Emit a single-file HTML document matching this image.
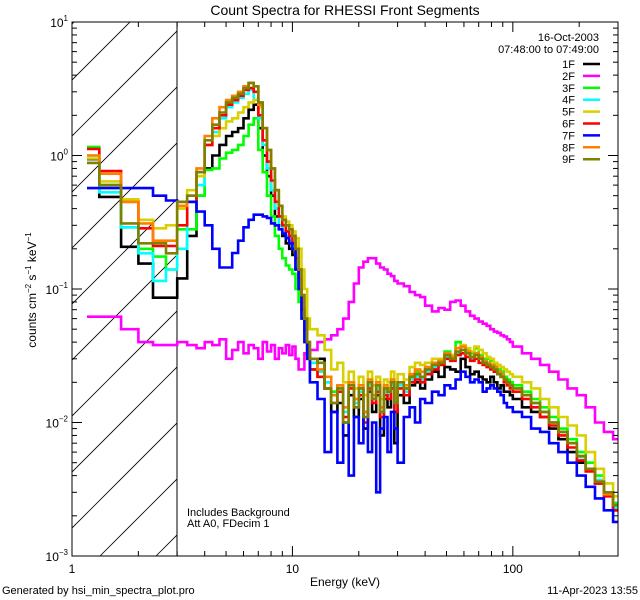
<!DOCTYPE html>
<html><head><meta charset="utf-8"><style>
html,body{margin:0;padding:0;background:#fff;}
svg{display:block;font-family:"Liberation Sans",sans-serif;}
</style></head><body>
<svg id="chart" width="640" height="600" viewBox="0 0 640 600" xmlns="http://www.w3.org/2000/svg">
<rect x="0" y="0" width="640" height="600" fill="#fff"/>
<text x="345" y="15" font-size="14" text-anchor="middle">Count Spectra for RHESSI Front Segments</text>
<defs><clipPath id="hatchClip"><rect x="72" y="22" width="105" height="534"/></clipPath>
<clipPath id="plotClip"><rect x="72" y="22" width="546" height="534"/></clipPath></defs>
<g id="hatch" clip-path="url(#hatchClip)"></g>
<line x1="177" y1="22" x2="177" y2="556" stroke="#000" stroke-width="1"/>
<g id="series" clip-path="url(#plotClip)"></g>
<rect x="72" y="22" width="546" height="534" fill="none" stroke="#000" stroke-width="1"/>
<g id="axes"></g>
<text x="345" y="586" font-size="12" text-anchor="middle">Energy (keV)</text>
<text transform="translate(36,290) rotate(-90)" font-size="12" text-anchor="middle">counts cm<tspan font-size="8" dy="-5">−2</tspan><tspan dy="5"> s</tspan><tspan font-size="8" dy="-5">−1</tspan><tspan dy="5"> keV</tspan><tspan font-size="8" dy="-5">−1</tspan></text>
<text x="599" y="41" font-size="11" text-anchor="end">16-Oct-2003</text>
<text x="599" y="53" font-size="11" text-anchor="end">07:48:00 to 07:49:00</text>
<g id="legend"></g>
<text x="187" y="516" font-size="11">Includes Background</text>
<text x="187" y="527" font-size="11">Att A0, FDecim 1</text>
<text x="2" y="594" font-size="11">Generated by hsi_min_spectra_plot.pro</text>
<text x="638" y="594" font-size="11" text-anchor="end">11-Apr-2023 13:55</text>
</svg>
<script>
const edges=[1.17,1.33,1.67,2.0,2.33,2.67,3.0,
3.33,3.67,4,4.33,4.67,5,5.33,5.67,6,6.33,6.67,7,7.33,7.67,8,8.33,8.67,9,9.33,9.67,10,10.33,10.67,11,11.33,11.67,12,
13,14,15,16,17,18,19,20,21,22,23,24,25,26,27,28,29,30,32,34,36,38,40,
43,46,49,52,55,58,61,64,67,70,73,76,79,82,85,88,91,94,97,100,
110,121,133,146,161,177,195,214,236,259,285,300];
const seriesNames=["1F","2F","3F","4F","5F","6F","7F","8F","9F"];
const seriesColors=["#000000","#ff00ff","#00ff00","#00ffff","#d8d000","#ff0000","#0000ff","#ff8000","#808000"];
const s1F=[0.94,0.49,0.207,0.155,0.086,0.086,
0.12,0.25,0.5,0.8,1.0,1.2,1.4,1.5,1.6,1.9,2.2,2.4,1.6,1.0,0.7,0.5,0.35,0.3,0.25,0.22,0.2,0.18,0.14,0.1,0.07,0.05,0.035,
0.025,0.03,0.018,
0.012,0.014,0.008,0.016,0.011,0.015,0.009,0.017,0.012,0.016,0.008,0.015,0.013,0.018,0.007,0.016,0.014,0.019,0.02,0.018,
0.021,0.024,0.022,0.026,0.025,0.024,0.03,0.026,0.023,0.024,0.022,0.021,0.02,0.022,0.02,0.018,0.019,0.017,0.017,0.016,
0.015,0.013,0.012,0.011,0.009,0.0075,0.006,0.005,0.0045,0.0035,0.003,0.0022];
const s2F=[0.062,0.062,0.05,0.04,0.038,0.038,
0.04,0.038,0.036,0.04,0.038,0.042,0.03,0.035,0.04,0.033,0.038,0.036,0.03,0.04,0.034,0.038,0.03,0.036,0.033,0.038,0.032,0.037,0.03,0.025,0.025,0.033,0.035,
0.035,0.04,0.042,
0.045,0.05,0.06,0.08,0.11,0.145,0.16,0.17,0.17,0.155,0.145,0.14,0.13,0.125,0.115,0.11,0.105,0.095,0.09,0.087,
0.075,0.068,0.072,0.07,0.08,0.082,0.075,0.068,0.063,0.06,0.057,0.055,0.053,0.05,0.048,0.047,0.045,0.044,0.042,0.04,
0.037,0.033,0.03,0.027,0.024,0.021,0.018,0.016,0.013,0.01,0.0085,0.0075];
const s3F=[1.16,0.6,0.29,0.2,0.175,0.14,
0.28,0.28,0.5,0.78,0.8,0.95,1.05,1.1,1.2,1.4,1.7,1.9,1.1,0.75,0.5,0.35,0.25,0.2,0.17,0.15,0.14,0.13,0.1,0.08,0.06,0.04,0.03,
0.025,0.022,0.02,
0.017,0.019,0.013,0.02,0.015,0.018,0.012,0.02,0.016,0.019,0.012,0.018,0.017,0.02,0.014,0.02,0.018,0.022,0.024,0.022,
0.025,0.028,0.03,0.034,0.032,0.04,0.037,0.035,0.033,0.036,0.032,0.03,0.03,0.029,0.027,0.025,0.024,0.022,0.021,0.02,
0.019,0.017,0.015,0.013,0.011,0.009,0.0075,0.006,0.005,0.004,0.003,0.0025];
const s4F=[1.0,0.53,0.29,0.185,0.115,0.14,
0.2,0.45,0.6,1.2,1.5,1.9,2.3,2.5,2.7,2.9,3.1,2.6,1.9,1.2,0.8,0.55,0.4,0.3,0.27,0.25,0.23,0.2,0.15,0.1,0.07,0.05,0.035,
0.028,0.024,0.02,
0.016,0.018,0.012,0.019,0.014,0.017,0.011,0.019,0.015,0.018,0.012,0.017,0.016,0.019,0.013,0.019,0.017,0.021,0.022,0.021,
0.024,0.026,0.028,0.031,0.03,0.033,0.035,0.033,0.03,0.032,0.03,0.029,0.028,0.027,0.025,0.024,0.023,0.021,0.02,0.019,
0.018,0.016,0.014,0.012,0.01,0.0085,0.007,0.0055,0.0045,0.0037,0.0029,0.0023];
const s5F=[0.95,0.64,0.47,0.33,0.285,0.30,
0.4,0.55,0.7,1.2,1.4,1.6,1.8,1.9,2.1,2.3,2.5,2.6,2.3,1.6,1.1,0.8,0.55,0.42,0.35,0.32,0.3,0.27,0.24,0.2,0.14,0.1,0.06,
0.05,0.045,0.035,
0.025,0.028,0.02,0.024,0.018,0.022,0.016,0.024,0.019,0.022,0.015,0.021,0.02,0.024,0.017,0.023,0.021,0.026,0.028,0.027,
0.028,0.03,0.03,0.033,0.032,0.036,0.038,0.036,0.034,0.037,0.035,0.033,0.031,0.03,0.028,0.027,0.026,0.025,0.024,0.023,
0.022,0.02,0.018,0.015,0.013,0.011,0.0095,0.008,0.006,0.0045,0.0035,0.0028];
const s6F=[1.12,0.765,0.45,0.285,0.21,0.21,
0.3,0.45,0.75,1.2,1.6,2.0,2.4,2.6,2.8,3.1,3.2,3.0,2.0,1.3,0.9,0.65,0.45,0.35,0.3,0.27,0.25,0.22,0.17,0.12,0.07,0.05,0.035,
0.025,0.022,0.018,
0.014,0.017,0.011,0.018,0.013,0.016,0.01,0.018,0.014,0.017,0.011,0.016,0.015,0.018,0.012,0.018,0.016,0.02,0.021,0.02,
0.023,0.025,0.027,0.03,0.029,0.032,0.033,0.031,0.029,0.03,0.028,0.027,0.026,0.025,0.024,0.023,0.022,0.02,0.019,0.018,
0.017,0.015,0.013,0.011,0.0095,0.008,0.0065,0.0052,0.0043,0.0035,0.0028,0.0022];
const s7F=[0.57,0.57,0.57,0.57,0.5,0.46,
0.45,0.45,0.38,0.30,0.2,0.145,0.145,0.186,0.23,0.29,0.33,0.36,0.36,0.35,0.34,0.31,0.3,0.28,0.26,0.24,0.22,0.2,0.14,0.1,0.06,0.04,0.03,
0.02,0.015,0.006,
0.012,0.005,0.01,0.004,0.011,0.007,0.012,0.006,0.01,0.003,0.009,0.011,0.006,0.012,0.009,0.005,0.011,0.013,0.01,0.015,
0.014,0.017,0.016,0.019,0.018,0.021,0.024,0.022,0.02,0.021,0.02,0.017,0.018,0.019,0.018,0.017,0.016,0.014,0.013,0.013,
0.012,0.011,0.009,0.0085,0.007,0.006,0.005,0.004,0.0033,0.0027,0.0022,0.0018];
const s8F=[1.0,0.73,0.45,0.31,0.23,0.23,
0.42,0.5,0.8,1.4,1.9,2.3,2.6,2.8,3.0,3.3,3.5,3.3,2.4,1.6,1.1,0.8,0.55,0.42,0.33,0.3,0.28,0.25,0.2,0.14,0.09,0.06,0.04,
0.03,0.025,0.022,
0.016,0.019,0.013,0.02,0.015,0.019,0.012,0.021,0.016,0.02,0.013,0.019,0.018,0.021,0.015,0.02,0.019,0.023,0.025,0.024,
0.026,0.028,0.029,0.033,0.031,0.036,0.037,0.034,0.031,0.033,0.031,0.029,0.028,0.027,0.026,0.024,0.023,0.021,0.02,0.019,
0.018,0.016,0.014,0.012,0.01,0.0085,0.007,0.0056,0.0045,0.0036,0.0029,0.0024];
const s9F=[0.88,0.6,0.31,0.22,0.22,0.185,
0.45,0.5,0.75,1.3,1.7,2.1,2.5,2.7,2.9,3.2,3.5,3.3,2.5,1.6,1.1,0.8,0.55,0.42,0.33,0.3,0.28,0.25,0.2,0.14,0.09,0.06,0.04,
0.03,0.028,0.018,
0.014,0.018,0.01,0.019,0.013,0.018,0.011,0.02,0.015,0.019,0.012,0.018,0.017,0.02,0.014,0.02,0.018,0.022,0.023,0.022,
0.025,0.027,0.028,0.032,0.03,0.034,0.035,0.033,0.031,0.032,0.03,0.028,0.027,0.026,0.025,0.023,0.022,0.021,0.02,0.019,
0.018,0.016,0.014,0.012,0.01,0.0085,0.007,0.0056,0.0045,0.0036,0.003,0.0024];
const seriesValues=[s1F,s2F,s3F,s4F,s5F,s6F,s7F,s8F,s9F];
const xTickMajor=[1,10,100];
const xTickLabels=["1","10","100"];
const yTickExps=[1,0,-1,-2,-3];

const NS="http://www.w3.org/2000/svg";
const X0=72,X1=618,Y0=22,Y1=556,XMIN=1,XMAX=300,YMIN=1e-3,YMAX=10;
function xs(e){return X0+(Math.log10(e)-Math.log10(XMIN))/(Math.log10(XMAX)-Math.log10(XMIN))*(X1-X0);}
function ys(v){return Y0+(Math.log10(YMAX)-Math.log10(v))/(Math.log10(YMAX)-Math.log10(YMIN))*(Y1-Y0);}
function mk(tag,attrs,parent){const el=document.createElementNS(NS,tag);for(const k in attrs)el.setAttribute(k,attrs[k]);parent.appendChild(el);return el;}

// hatch
const hatch=document.getElementById('hatch');
for(let k=-12;k<=3;k++){
  const c=100+56*k;
  const ln=mk('line',{x1:c,y1:556,x2:c+534,y2:22,stroke:'#000','stroke-width':0.8},hatch);
  
  
}

// series
const sg=document.getElementById('series');
seriesValues.forEach((vals,si)=>{
  let d='';
  const n=Math.min(vals.length,edges.length-1);
  for(let i=0;i<n;i++){
    const xa=xs(edges[i]).toFixed(1),xb=xs(edges[i+1]).toFixed(1),y=ys(vals[i]).toFixed(1);
    d+=(i===0?'M':'L')+xa+' '+y+'L'+xb+' '+y;
  }
  const p=mk('path',{d:d,fill:'none',stroke:seriesColors[si],'stroke-width':2.6,'stroke-linejoin':'miter'},sg);
  
  
});

// axes
const ax=document.getElementById('axes');
for(let dec=0;dec<3;dec++){
  for(let m=1;m<=9;m++){
    const e=Math.pow(10,dec)*m; if(e>XMAX) continue;
    const x=xs(e), len=(m===1)?10:5;
    const t1=mk('line',{x1:x,y1:Y1,x2:x,y2:Y1-len,stroke:'#000','stroke-width':1},ax);
    
    
    const t2=mk('line',{x1:x,y1:Y0,x2:x,y2:Y0+len,stroke:'#000','stroke-width':1},ax);
    
    
  }
}
xTickMajor.forEach((e,i)=>{
  const t=mk('text',{x:xs(e),y:Y1+17,'font-size':12,'text-anchor':'middle'},ax);
  t.textContent=xTickLabels[i];
  
  
});
for(let p=-3;p<1;p++){
  for(let m=1;m<=9;m++){
    const v=Math.pow(10,p)*m;
    const y=ys(v), len=(m===1)?10:5;
    const a=mk('line',{x1:X0,y1:y,x2:X0+len,y2:y,stroke:'#000','stroke-width':1},ax);
    
    
    const b=mk('line',{x1:X1,y1:y,x2:X1-len,y2:y,stroke:'#000','stroke-width':1},ax);
    
    
  }
}
yTickExps.forEach(p=>{
  const y=ys(Math.pow(10,p));
  const t=mk('text',{x:X0-4,y:y+5,'font-size':12,'text-anchor':'end'},ax);
  
  
  const s1=document.createElementNS(NS,'tspan');s1.textContent='10';t.appendChild(s1);
  const s2=document.createElementNS(NS,'tspan');s2.setAttribute('font-size','8');s2.setAttribute('dy','-6');
  s2.textContent=(p<0?'−':'')+Math.abs(p);t.appendChild(s2);
});

// legend
const lg=document.getElementById('legend');
seriesNames.forEach((nm,i)=>{
  const y=64+i*11.9;
  const t=mk('text',{x:575,y:y+4,'font-size':11,'text-anchor':'end'},lg);
  t.textContent=nm;
  
  
  const l=mk('line',{x1:583,y1:y,x2:600,y2:y,stroke:seriesColors[i],'stroke-width':2.5},lg);
  
  
});
</script>
</body></html>
